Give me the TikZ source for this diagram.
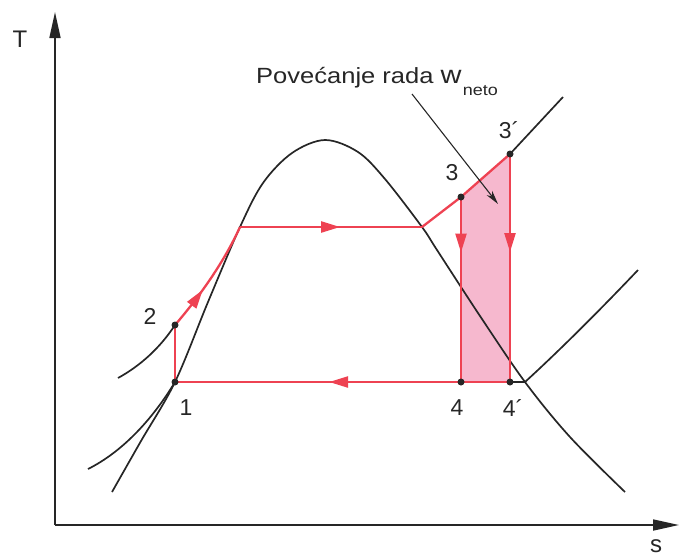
\documentclass[tikz,border=0pt]{standalone}
\usepackage{fontspec}
\setmainfont{Liberation Sans}
\usetikzlibrary{arrows.meta,decorations.markings}
\definecolor{cyc}{RGB}{238,66,82}
\definecolor{pinkf}{RGB}{246,184,206}
\definecolor{ink}{RGB}{38,38,38}
\begin{document}
\begin{tikzpicture}[x=1pt,y=-1pt,
  curve/.style={draw=ink,line width=1.7pt},
  axis/.style={draw=ink,line width=1.7pt,-{Triangle[length=26pt,width=11pt]}},
  cyc/.style={draw=cyc,line width=2.3pt,line join=round},
  midarrow/.style={postaction={decorate},decoration={markings,
     mark=at position #1 with {\arrow[color=cyc]{Triangle[length=19pt,width=11pt]}}}},
  dot/.style={fill=ink},
  lbl/.style={font=\fontsize{23}{26}\selectfont,text=ink,inner sep=0pt},
  pointer/.style={draw=ink,line width=1.1pt,-{Stealth[length=14pt,width=7pt]}}]
\useasboundingbox (0,0) rectangle (680,558);

% state points
\coordinate (p1) at (175,382);
\coordinate (p2) at (175,325);
\coordinate (pa) at (240,227);
\coordinate (pb) at (422,227);
\coordinate (p3) at (461,197);
\coordinate (p3s) at (510,154);
\coordinate (p4) at (461,382);
\coordinate (p4s) at (510,382);
\coordinate (px) at (525,382);
\coordinate (o) at (55,525);
\coordinate (ytip) at (55,12);
\coordinate (xtip) at (679,525);

% shaded gain
\fill[pinkf] (p3) -- (p3s) -- (p4s) -- (p4) -- cycle;

% axes
\draw[axis] (o) -- (ytip);
\draw[axis] (o) -- (xtip);
\node[lbl,font=\fontsize{24}{26}\selectfont] (T) at (20,39) {T};
\node[lbl,font=\fontsize{24}{26}\selectfont] (s) at (656,546) {s};

% saturation dome
\draw[curve] plot[smooth,tension=0.55] coordinates {(112,492) (141,441) (p1) (208,302) (pa) (263,183) (292,153) (325,140) (358,152) (385,179) (pb) (437,250) (480,316) (px) (570,437) (625,492)};

% isobars
\draw[curve] (p1) .. controls (152,420) and (122,452) .. (88,469);
\draw[curve] (118,378) .. controls (140,366) and (160,348) .. (p2);
\draw[curve] (p3s) -- (563,97);
\draw[curve] (p4s) -- (px) .. controls (560,350) and (600,310) .. (638,270);

% cycle
\draw[cyc] (p1) -- (p2);
\draw[cyc,midarrow=0.38] (p2) .. controls (200,296) and (224,262) .. (pa);
\draw[cyc,midarrow=0.55] (pa) -- (pb);
\draw[cyc] (pb) -- (p3) -- (p3s);
\draw[cyc,midarrow=0.30] (p3) -- (p4);
\draw[cyc,midarrow=0.43] (p3s) -- (p4s);
\draw[cyc,midarrow=0.54] (p4s) -- (p1);

% dots
\foreach \p in {p1,p2,p3,p3s,p4,p4s} \fill[dot] (\p) circle (3.5);

% labels
\node[lbl] (l1) at (186,408) {1};
\node[lbl] (l2) at (150,316) {2};
\node[lbl] (l3) at (452,173) {3};
\node[lbl] (l3s) at (509,130) {3´};
\node[lbl] (l4) at (457,408) {4};
\node[lbl] (l4s) at (513,408) {4´};

% annotation
\node[inner sep=0pt,anchor=base west,text=ink] (ann) at (256,83)
  {\scalebox{1.16}[1]{\fontsize{22}{26}\selectfont Povećanje rada {\fontsize{25}{26}\selectfont w}\kern1.2pt\raisebox{-12pt}{\fontsize{15.5}{18}\selectfont neto}}};
\coordinate (annfoot) at (412,94);
\coordinate (anntip) at (498,204);
\draw[pointer] (annfoot) -- (anntip);
\end{tikzpicture}
\end{document}
